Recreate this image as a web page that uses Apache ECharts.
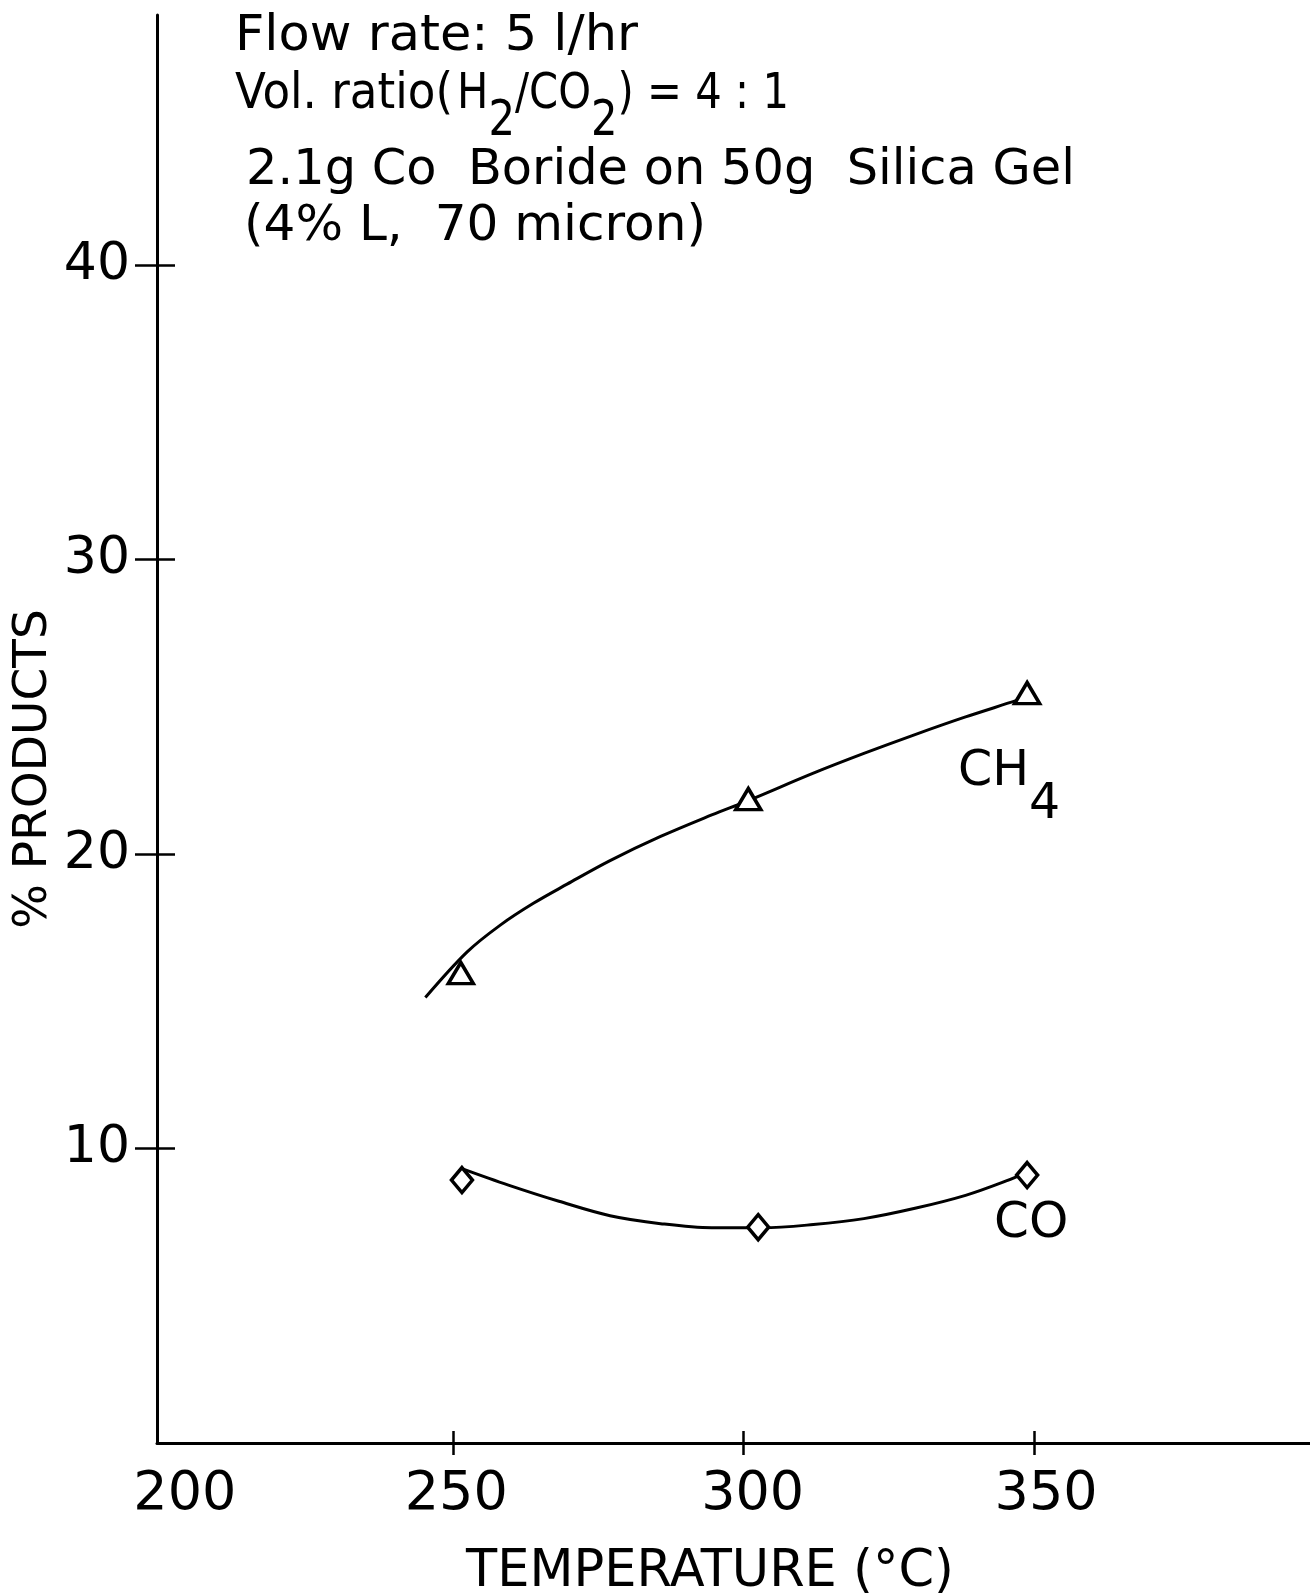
<!DOCTYPE html>
<html>
<head>
<meta charset="utf-8">
<script src="https://cdn.jsdelivr.net/npm/echarts@6/dist/echarts.min.js"></script>
<style>
  html, body { margin: 0; padding: 0; background: #fff; }
  #chart { width: 1310px; height: 1593px; }
</style>
</head>
<body>
<div id="chart"></div>
<script>
// ---- data ----
const xTickValues = [250, 300, 350];
const xLabelValues = [200, 250, 300, 350];
const yTickValues = [10, 20, 30, 40];

// measured points (temperature °C, % products)
const ch4Points = [[251.3, 15.96], [300.8, 21.87], [348.8, 25.47]];
const coPoints = [[251.5, 8.93], [302.5, 7.33], [348.8, 9.10]];

// hand-drawn fitted curves
const ch4Curve = [
  [245.2, 15.13], [252.4, 16.68], [258.1, 17.59], [263.8, 18.33], [269.6, 18.98],
  [277.0, 19.78], [285.7, 20.60], [294.5, 21.33], [300.8, 21.82], [312.0, 22.75],
  [320.7, 23.42], [329.5, 24.06], [338.2, 24.66], [347.0, 25.22], [349.3, 25.38]
];
const coCurve = [
  [251.6, 9.31], [259.5, 8.76], [268.2, 8.21], [277.0, 7.72], [285.7, 7.45],
  [294.5, 7.31], [303.2, 7.31], [312.0, 7.42], [320.7, 7.62], [329.5, 7.97],
  [338.2, 8.41], [345.2, 8.90], [348.9, 9.21]
];

const annoLine1 = 'Flow rate: 5 l/hr';
const annoLine2a = 'Vol. ratio(';
const annoLine2b = ['H', '2', '/CO', '2', ') = 4 : 1'];
const annoLine3 = '2.1g Co  Boride on 50g  Silica Gel';
const annoLine4 = '(4% L,  70 micron)';
const ch4Label = ['CH', '4'];
const coLabel = 'CO';
const xTitle = 'TEMPERATURE (°C)';
const yTitle = '% PRODUCTS';

// ---- chart ----
const FONT = 'DejaVu Sans';
const xMin = 199, xMax = 397.5, yMin = 0, yMax = 48.5;
const black = '#000';
// hand lettering of the x tick labels sits a little right of each tick (pixels)
const xLabelNudge = { 200: 22, 250: 3, 300: 9, 350: 12 };

const ctx = document.createElement('canvas').getContext('2d');
function textWidth(str, size) {
  ctx.font = size + 'px "' + FONT + '"';
  return ctx.measureText(str).width;
}
function fitScale(str, size, span) {
  const w = textWidth(str, size);
  return w > 0 ? span / w : 1;
}

const chart = echarts.init(document.getElementById('chart'), null, { renderer: 'canvas' });

function axisBase(min, max) {
  return {
    type: 'value', min: min, max: max,
    splitLine: { show: false },
    axisLine: { show: false, lineStyle: { color: black, width: 3 } },
    axisLabel: { show: false }
  };
}

function plainText(str, x, y, size, span) {
  return {
    type: 'text', x: x, y: y,
    scaleX: span ? fitScale(str, size, span) : 1,
    style: {
      text: str, font: size + 'px "' + FONT + '"', fill: black,
      align: 'left', verticalAlign: 'middle', textAlign: 'left', textVerticalAlign: 'middle'
    }
  };
}

const AS = 49; // annotation font size
const line2bStr = annoLine2b.join('');
const line2bScale = fitScale(line2bStr, AS, 332);

const xLabelRich = {};
xLabelValues.forEach(function (v) {
  xLabelRich['n' + v] = { fontSize: 54, fontFamily: FONT, color: black, padding: [0, 0, 0, 2 * (xLabelNudge[v] || 0)] };
});

const option = {
  backgroundColor: '#fff',
  animation: false,
  grid: { left: 157, top: 15, width: 1153, height: 1428 },
  xAxis: [
    Object.assign(axisBase(xMin, xMax), {
      position: 'bottom',
      axisLine: { show: true, onZero: false, lineStyle: { color: black, width: 3 } },
      axisTick: { show: true, inside: false, length: 12, customValues: xTickValues, lineStyle: { color: black, width: 2.5 } },
      axisLabel: {
        show: true, customValues: xLabelValues, margin: 25, fontSize: 54, fontFamily: FONT, color: black,
        formatter: function (v) { return '{n' + v + '|' + v + '}'; },
        rich: xLabelRich
      }
    }),
    Object.assign(axisBase(xMin, xMax), {
      position: 'bottom',
      axisTick: { show: true, inside: true, length: 12, customValues: xTickValues, lineStyle: { color: black, width: 2.5 } }
    })
  ],
  yAxis: [
    Object.assign(axisBase(yMin, yMax), {
      position: 'left',
      axisLine: { show: true, onZero: false, lineStyle: { color: black, width: 3 } },
      axisTick: { show: true, inside: false, length: 22, customValues: yTickValues, lineStyle: { color: black, width: 2.5 } },
      axisLabel: { show: true, customValues: yTickValues, margin: 27, fontSize: 52, fontFamily: FONT, color: black }
    }),
    Object.assign(axisBase(yMin, yMax), {
      position: 'left',
      axisTick: { show: true, inside: true, length: 18, customValues: yTickValues, lineStyle: { color: black, width: 2.5 } }
    })
  ],
  series: [
    {
      type: 'line', name: 'CH4 fit', data: ch4Curve, smooth: 0.35, showSymbol: false,
      lineStyle: { color: black, width: 3 }, z: 2
    },
    {
      type: 'line', name: 'CO fit', data: coCurve, smooth: 0.35, showSymbol: false,
      lineStyle: { color: black, width: 3 }, z: 2
    },
    {
      type: 'scatter', name: 'CH4', data: ch4Points, symbol: 'triangle', symbolSize: [25, 21],
      itemStyle: { color: '#fff', borderColor: black, borderWidth: 3.5, opacity: 1 }, z: 3
    },
    {
      type: 'scatter', name: 'CO', data: coPoints, symbol: 'diamond', symbolSize: [21, 25],
      itemStyle: { color: '#fff', borderColor: black, borderWidth: 3.5, opacity: 1 }, z: 3
    }
  ],
  graphic: [
    plainText(annoLine1, 235, 37, AS, 403),
    plainText(annoLine2a, 235, 95, AS, 218),
    {
      type: 'text', x: 457, y: 95, scaleX: line2bScale,
      style: {
        text: '{m|' + annoLine2b[0] + '}{s|' + annoLine2b[1] + '}{m|' + annoLine2b[2] + '}{s|' + annoLine2b[3] + '}{m|' + annoLine2b[4] + '}',
        fill: black, align: 'left', verticalAlign: 'middle', textAlign: 'left', textVerticalAlign: 'middle',
        rich: {
          m: { fontSize: AS, fontFamily: FONT, fill: black },
          s: { fontSize: AS, fontFamily: FONT, fill: black, padding: [54, 0, 0, 0] }
        }
      }
    },
    plainText(annoLine3, 246, 171, AS, 829),
    plainText(annoLine4, 244, 227, AS, 462),
    {
      type: 'text', x: 958, y: 772,
      style: {
        text: '{m|' + ch4Label[0] + '}{s|' + ch4Label[1] + '}', fill: black,
        align: 'left', verticalAlign: 'middle', textAlign: 'left', textVerticalAlign: 'middle',
        rich: {
          m: { fontSize: 49, fontFamily: FONT, fill: black },
          s: { fontSize: 49, fontFamily: FONT, fill: black, padding: [66, 0, 0, 0] }
        }
      }
    },
    plainText(coLabel, 994, 1224, 50, 0),
    {
      type: 'text', x: 710, y: 1573,
      style: { text: xTitle, font: '51px "' + FONT + '"', fill: black, align: 'center', verticalAlign: 'middle', textAlign: 'center', textVerticalAlign: 'middle' }
    },
    {
      type: 'text', x: 34, y: 769, rotation: Math.PI / 2,
      style: { text: yTitle, font: '47px "' + FONT + '"', fill: black, align: 'center', verticalAlign: 'middle', textAlign: 'center', textVerticalAlign: 'middle' }
    }
  ]
};
chart.setOption(option);
</script>
</body>
</html>
